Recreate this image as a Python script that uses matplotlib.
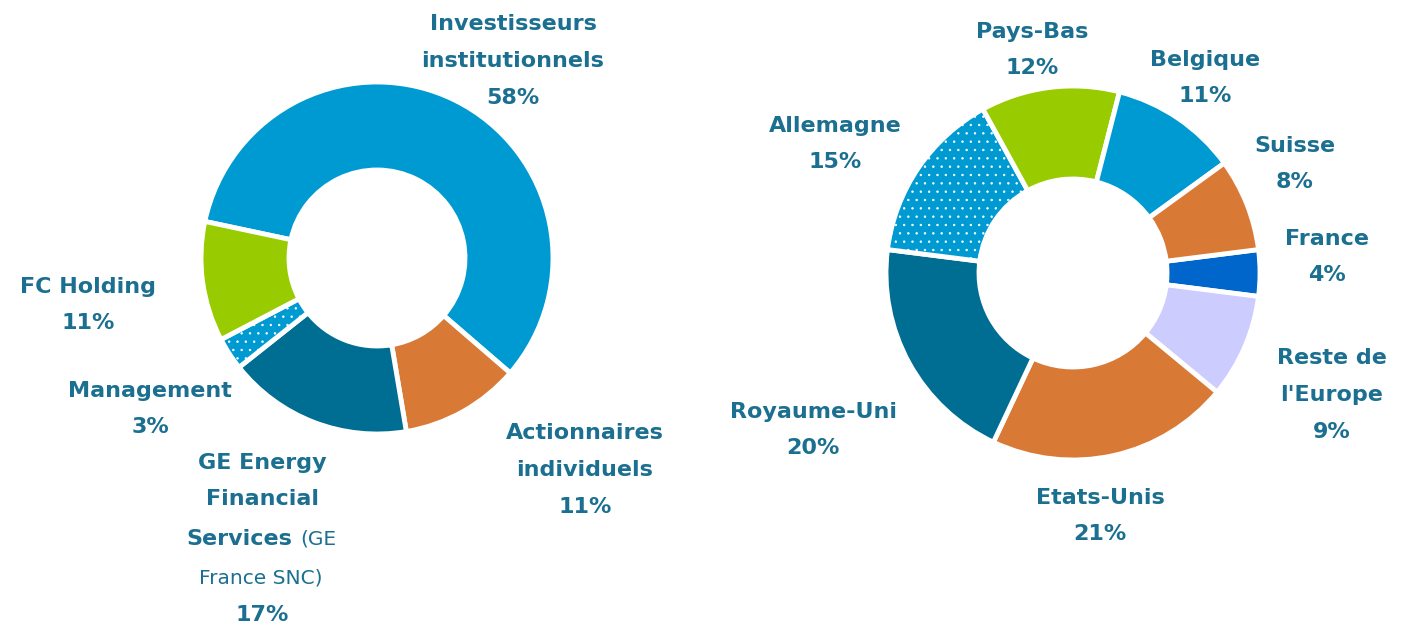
import matplotlib.pyplot as plt

# left donut: shareholders
left_labels = ["Investisseurs\ninstitutionnels", "Actionnaires\nindividuels",
               "GE Energy Financial Services (GE France SNC)", "Management", "FC Holding"]
left_values = [58, 11, 17, 3, 11]
left_colors = ["#009AD2", "#D87A36", "#006D92", "#009AD2", "#99CC00"]
left_hatch = [None, None, None, "..", None]

# right donut: geography
right_labels = ["France", "Reste de\nl'Europe", "Etats-Unis", "Royaume-Uni",
                "Allemagne", "Pays-Bas", "Belgique", "Suisse"]
right_values = [4, 9, 21, 20, 15, 12, 11, 8]
right_colors = ["#0066CC", "#CCCCFF", "#D87A36", "#006D92",
                "#009AD2", "#99CC00", "#009AD2", "#D87A36"]
right_hatch = [None, None, None, None, "..", None, None, None]

TXT = "#1B6F90"
W, H = 1410, 632

fig = plt.figure(figsize=(W / 100, H / 100), dpi=100)
ax = fig.add_axes([0, 0, 1, 1])
plt.rcParams["hatch.linewidth"] = 0.5


def donut(values, colors, hatches, center, radius, width, start):
    wedges, _ = ax.pie(values, colors=colors, center=center, radius=radius,
                       startangle=start, counterclock=False, frame=True,
                       wedgeprops=dict(width=width, edgecolor="white", linewidth=3.5))
    for w, h in zip(wedges, hatches):
        if h:
            w.set_hatch(h)
    return wedges


donut(left_values, left_colors, left_hatch, (377, H - 258), 176, 88, 168)
donut(right_values, right_colors, right_hatch, (1073, H - 273), 187, 93, 7.2)
ax.set_xlim(0, W)
ax.set_ylim(0, H)
ax.set_aspect("equal")
ax.axis("off")


def label(x, y, text, size=16, weight="bold"):
    ax.text(x, H - y, text, ha="center", va="center", color=TXT,
            fontsize=size, fontweight=weight, linespacing=2.05,
            family="DejaVu Sans")


def pct(v):
    return f"{v}%"


# left labels
label(513, 61, left_labels[0] + "\n" + pct(left_values[0]))
label(585, 470, left_labels[1] + "\n" + pct(left_values[1]))
label(150, 409, left_labels[3] + "\n" + pct(left_values[3]))
label(88, 305, left_labels[4] + "\n" + pct(left_values[4]))
label(262, 481, "GE Energy\nFinancial")
ax.text(292, H - 539, "Services", ha="right", va="center", color=TXT,
        fontsize=16, fontweight="bold")
ax.text(300, H - 539, "(GE", ha="left", va="center", color=TXT, fontsize=14.5)
ax.text(261, H - 578, "France SNC)", ha="center", va="center", color=TXT, fontsize=14.5)
label(262, 615, pct(left_values[2]))

# right labels
right_pos = [(1327, 257), (1332, 395), (1100, 516), (813, 430),
             (835, 144), (1032, 50), (1205, 78), (1295, 164)]
for name, v, (x, y) in zip(right_labels, right_values, right_pos):
    label(x, y, name + "\n" + pct(v))

fig.savefig("out.png", dpi=100)
